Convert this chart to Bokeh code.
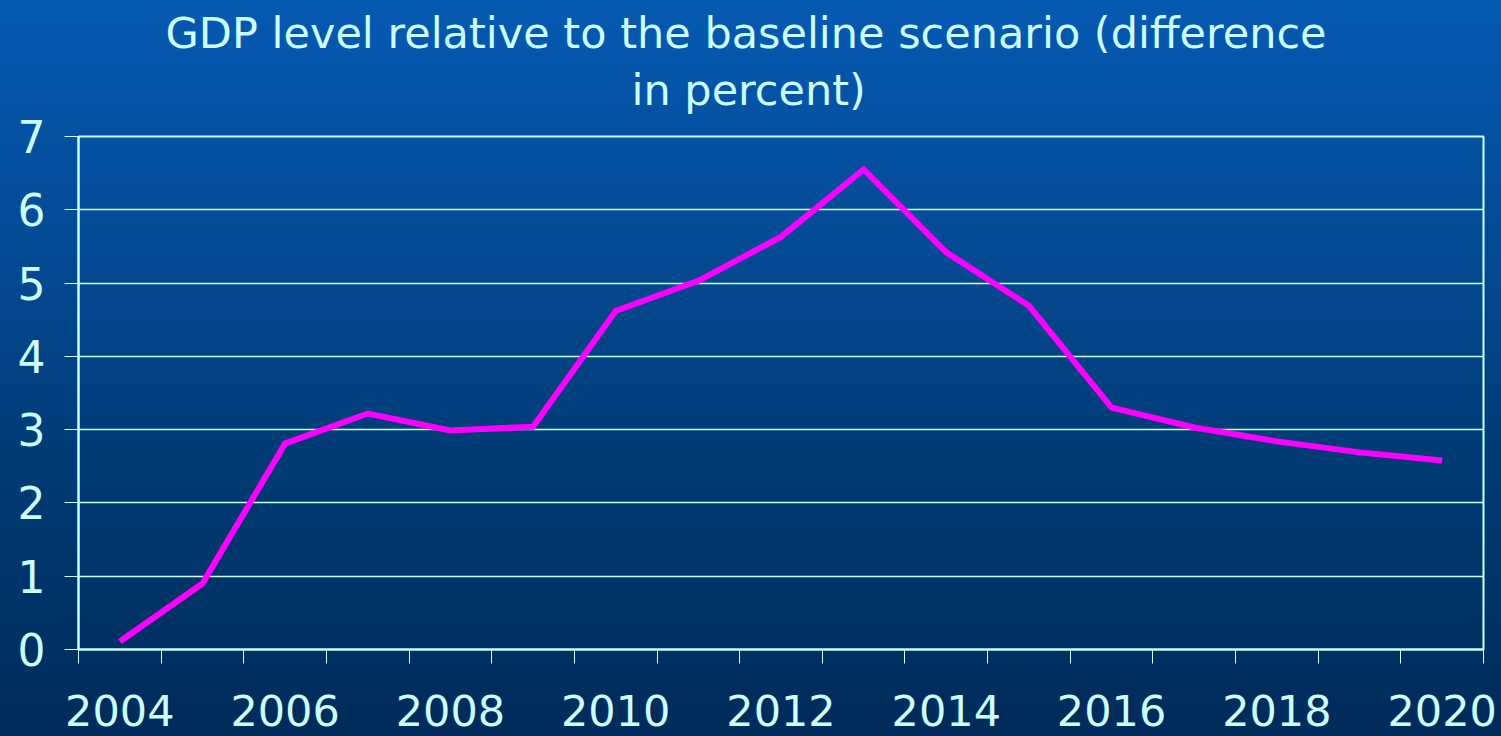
from bokeh.plotting import figure
from bokeh.models import FixedTicker, Range1d, Title
from bokeh.embed import file_html
from bokeh.resources import INLINE

years = [2004, 2005, 2006, 2007, 2008, 2009, 2010, 2011, 2012, 2013, 2014, 2015, 2016, 2017, 2018, 2019, 2020]
gdp_diff = [0.11, 0.90, 2.81, 3.22, 2.99, 3.04, 4.62, 5.03, 5.63, 6.55, 5.42, 4.69, 3.30, 3.03, 2.84, 2.69, 2.58]
y_ticks = [0, 1, 2, 3, 4, 5, 6, 7]
x_label_years = [2004, 2006, 2008, 2010, 2012, 2014, 2016, 2018, 2020]
title_line1 = "GDP level relative to the baseline scenario (difference"
title_line2 = "in percent)"

TXT = "#ccffff"
FONT = "DejaVu Sans"

p = figure(width=1501, height=736, output_backend="svg", toolbar_location=None,
           x_range=Range1d(years[0] - 0.5, years[-1] + 0.5), y_range=Range1d(y_ticks[0], y_ticks[-1]),
           min_border_left=78, min_border_right=18, min_border_bottom=87, min_border_top=136)
p.styles = {"background": "linear-gradient(to bottom, #0659b2 0%, #044c98 30%, #013b76 62%, #002b5a 100%)"}
p.border_fill_alpha = 0
p.background_fill_alpha = 0
p.outline_line_color = TXT
p.outline_line_width = 2

p.title = None
# spacer between the title and the frame (closest to the frame is added first)
p.add_layout(Title(text=" ", text_font_size="1px", standoff=19), "above")
p.add_layout(Title(text=title_line2, align="left", offset=553, text_font=FONT, text_font_size="43px",
                   text_font_style="normal", text_color=TXT, standoff=0), "above")
p.add_layout(Title(text=title_line1, align="left", offset=87, text_font=FONT, text_font_size="43px",
                   text_font_style="normal", text_color=TXT, standoff=10), "above")

p.line(years, gdp_diff, line_color="#ff00ff", line_width=6, line_join="miter")

# y axis
p.yaxis.ticker = FixedTicker(ticks=y_ticks)
p.yaxis.axis_line_color = TXT
p.yaxis.axis_line_width = 2
p.yaxis.major_tick_line_color = TXT
p.yaxis.major_tick_out = 14
p.yaxis.major_tick_in = 0
p.yaxis.minor_tick_line_color = None
p.yaxis.major_label_text_font = FONT
p.yaxis.major_label_text_font_size = "44px"
p.yaxis.major_label_text_color = TXT
p.yaxis.major_label_standoff = 19

# x axis
bounds = [y - 0.5 for y in years] + [years[-1] + 0.5]
p.xaxis.ticker = FixedTicker(ticks=x_label_years, minor_ticks=bounds)
p.xaxis.axis_line_color = TXT
p.xaxis.axis_line_width = 2
p.xaxis.major_tick_line_color = None
p.xaxis.major_tick_out = 0
p.xaxis.major_tick_in = 0
p.xaxis.minor_tick_line_color = TXT
p.xaxis.minor_tick_out = 14
p.xaxis.minor_tick_in = 0
p.xaxis.major_label_text_font = FONT
p.xaxis.major_label_text_font_size = "43px"
p.xaxis.major_label_text_color = TXT
p.xaxis.major_label_standoff = 31

p.xgrid.grid_line_color = None
p.ygrid.grid_line_color = TXT
p.ygrid.grid_line_width = 1.5

open("out.html", "w").write(file_html(p, INLINE))
